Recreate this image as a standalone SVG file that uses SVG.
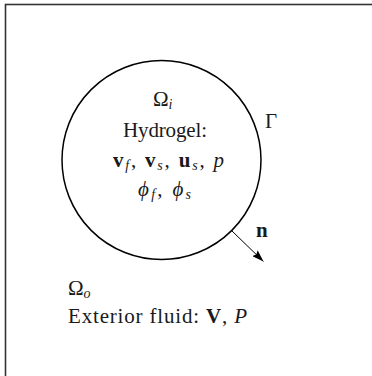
<svg xmlns="http://www.w3.org/2000/svg" width="372" height="376" viewBox="0 0 372 376">
<defs>
<marker id="ah" viewBox="0 0 12 8" refX="12" refY="4" markerWidth="12" markerHeight="8" markerUnits="userSpaceOnUse" orient="auto">
<path d="M0,0 L12,4 L0,8 L2,4 Z" fill="#000"/>
</marker>
</defs>
<style>
text{font-family:"Liberation Serif","Times New Roman",serif;font-size:21px;fill:#1a1a1a}
.b{font-weight:bold}
.i{font-style:italic}
.s{font-size:14px}
</style>
<rect x="5.5" y="4.5" width="380" height="390" fill="#fff" stroke="#333" stroke-width="1.6"/>
<g id="hydrogel">
<circle cx="161.5" cy="160" r="99.5" fill="none" stroke="#000" stroke-width="1.5"/>
<text x="153" y="106">Ω<tspan class="i s" dy="3">i</tspan></text>
<text x="123" y="137" textLength="84">Hydrogel:</text>
<text x="113" y="167" textLength="111"><tspan class="b">v</tspan><tspan class="i s" dy="3">f</tspan><tspan dy="-3">, </tspan><tspan class="b">v</tspan><tspan class="i s" dy="3">s</tspan><tspan dy="-3">, </tspan><tspan class="b">u</tspan><tspan class="i s" dy="3">s</tspan><tspan dy="-3">, </tspan><tspan class="i">p</tspan></text>
<text x="138" y="196" textLength="53" fill="#333"><tspan class="i">ϕ</tspan><tspan class="i s" dy="3">f</tspan><tspan dy="-3">, </tspan><tspan class="i">ϕ</tspan><tspan class="i s" dy="3">s</tspan></text>
</g>
<g id="gamma"><text x="265" y="128">Γ</text></g>
<g id="normal"><text x="256" y="237" class="b">n</text></g>
<g id="exterior">
<text x="68" y="295">Ω<tspan class="i s" dy="3">o</tspan></text>
<text x="68" y="323" textLength="179">Exterior fluid: <tspan class="b">V</tspan>, <tspan class="i">P</tspan></text>
</g>
<g id="connectors">
<line x1="232" y1="231" x2="263.5" y2="261.5" stroke="#000" stroke-width="1" marker-end="url(#ah)"/>
</g>
</svg>
